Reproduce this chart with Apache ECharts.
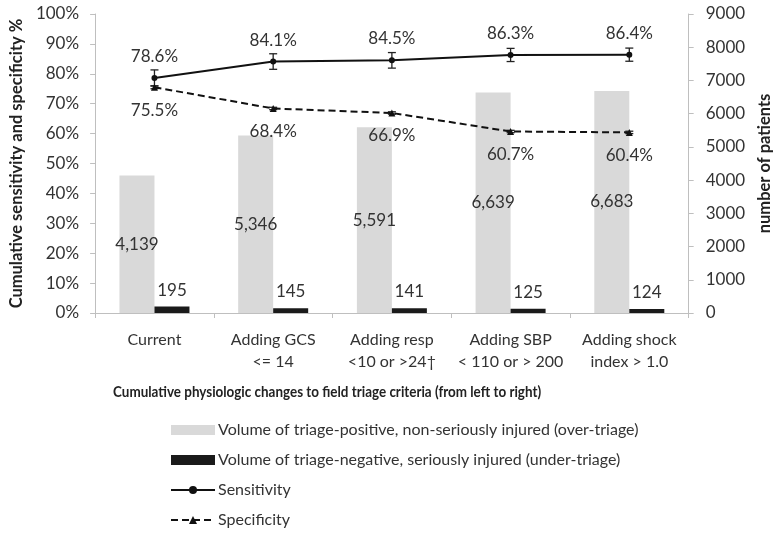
<!DOCTYPE html>
<html>
<head>
<meta charset="utf-8">
<script src="https://cdn.jsdelivr.net/npm/echarts@6/dist/echarts.min.js"></script>
<style>html,body{margin:0;padding:0;background:#fff}#c{width:781px;height:534px}</style>
</head>
<body>
<div id="c"></div>
<script>
const categories = ['Current', 'Adding GCS\n<= 14', 'Adding resp\n<10 or >24\u2020', 'Adding SBP\n< 110 or > 200', 'Adding shock\nindex > 1.0'];
const overTriage = [4139, 5346, 5591, 6639, 6683];
const underTriage = [195, 145, 141, 125, 124];
const sensitivity = [78.6, 84.1, 84.5, 86.3, 86.4];
const sensitivityErr = [2.7, 2.6, 2.6, 2.2, 2.2];
const specificity = [75.5, 68.4, 66.9, 60.7, 60.4];
const specificityErr = [0.5, 0.4, 0.4, 0.4, 0.4];
const leftTicks = [0, 10, 20, 30, 40, 50, 60, 70, 80, 90, 100];
const rightTicks = [0, 1000, 2000, 3000, 4000, 5000, 6000, 7000, 8000, 9000];

const FONT = 'Lato';
const TXT = '#333333';
const AX = '#bfbfbf';

function errSeries(vals, errs, z) {
  return {
    type: 'custom',
    name: 'err' + z,
    yAxisIndex: 0,
    z: z,
    silent: true,
    data: vals.map((v, i) => [i, v - errs[i], v + errs[i]]),
    renderItem: function (params, api) {
      const x = api.value(0);
      const lo = api.coord([x, api.value(1)]);
      const hi = api.coord([x, api.value(2)]);
      const w = 4;
      const st = { stroke: '#222', lineWidth: 1.3 };
      return {
        type: 'group',
        children: [
          { type: 'line', shape: { x1: lo[0], y1: lo[1], x2: hi[0], y2: hi[1] }, style: st },
          { type: 'line', shape: { x1: lo[0] - w, y1: lo[1], x2: lo[0] + w, y2: lo[1] }, style: st },
          { type: 'line', shape: { x1: hi[0] - w, y1: hi[1], x2: hi[0] + w, y2: hi[1] }, style: st }
        ]
      };
    }
  };
}

const chart = echarts.init(document.getElementById('c'), null, { renderer: 'canvas' });
chart.setOption({
  animation: false,
  textStyle: { fontFamily: FONT, color: TXT },
  grid: { left: 88, right: 87, top: 14, bottom: 221 },
  legend: {
    orient: 'vertical',
    left: 165,
    top: 417,
    itemWidth: 44,
    itemHeight: 10,
    itemGap: 14,
    textStyle: { fontFamily: FONT, fontSize: 16, color: TXT, padding: [0, 0, 0, -2] },
    data: [
      { name: 'Volume of triage-positive, non-seriously injured (over-triage)', icon: 'rect' },
      { name: 'Volume of triage-negative, seriously injured (under-triage)', icon: 'rect' },
      { name: 'Sensitivity' },
      { name: 'Specificity' }
    ]
  },
  graphic: [{
    type: 'text',
    x: 113,
    y: 384,
    scaleX: 0.84,
    style: {
      text: 'Cumulative physiologic changes to field triage criteria (from left to right)',
      font: 'bold 16px ' + FONT,
      fill: '#222'
    }
  }],
  xAxis: {
    type: 'category',
    data: categories,
    axisLine: { lineStyle: { color: AX, width: 1 } },
    axisTick: { show: true, length: 5, lineStyle: { color: AX } },
    axisLabel: { interval: 0, fontSize: 16, color: TXT, margin: 16, lineHeight: 22, fontFamily: FONT }
  },
  yAxis: [{
    type: 'value',
    min: 0, max: 100, interval: 10,
    name: 'Cumulative sensitivity and specificity %',
    nameLocation: 'middle',
    nameGap: 63,
    nameRotate: 90,
    nameTextStyle: { fontSize: 16.5, fontWeight: 'bold', color: '#222', fontFamily: FONT },
    axisLine: { show: true, lineStyle: { color: AX } },
    axisTick: { show: true, length: 5, lineStyle: { color: AX } },
    splitLine: { show: false },
    axisLabel: { fontSize: 17, color: TXT, margin: 16, formatter: v => leftTicks.includes(v) ? v + '%' : '' }
  }, {
    type: 'value',
    min: 0, max: 9000, interval: 1000,
    name: 'number of patients',
    nameLocation: 'middle',
    nameGap: 58,
    nameRotate: 90,
    nameTextStyle: { fontSize: 16.5, fontWeight: 'bold', color: '#222', fontFamily: FONT },
    axisLine: { show: true, lineStyle: { color: AX } },
    axisTick: { show: true, length: 5, lineStyle: { color: AX } },
    splitLine: { show: false },
    axisLabel: { fontSize: 17, color: TXT, margin: 17, formatter: v => rightTicks.includes(v) ? String(v) : '' }
  }],
  series: [{
    name: 'Volume of triage-positive, non-seriously injured (over-triage)',
    type: 'bar',
    yAxisIndex: 1,
    data: overTriage,
    barWidth: 35,
    barGap: '0%',
    itemStyle: { color: '#d9d9d9' },
    label: { show: true, position: 'inside', fontSize: 17, color: TXT, formatter: p => p.value.toLocaleString('en-US') }
  }, {
    name: 'Volume of triage-negative, seriously injured (under-triage)',
    type: 'bar',
    yAxisIndex: 1,
    data: underTriage,
    barWidth: 35,
    barGap: '0%',
    itemStyle: { color: '#1a1a1a' },
    label: { show: true, position: 'top', distance: 8, fontSize: 17, color: TXT }
  },
  errSeries(sensitivity, sensitivityErr, 5),
  errSeries(specificity, specificityErr, 5),
  {
    name: 'Sensitivity',
    type: 'line',
    yAxisIndex: 0,
    data: sensitivity,
    z: 6,
    symbol: 'circle',
    symbolSize: 6,
    lineStyle: { color: '#111', width: 2 },
    itemStyle: { color: '#111' },
    label: { show: true, position: 'top', distance: 10, fontSize: 17, color: TXT, formatter: p => p.value.toFixed(1) + '%' }
  }, {
    name: 'Specificity',
    type: 'line',
    yAxisIndex: 0,
    data: specificity,
    z: 6,
    symbol: 'triangle',
    symbolSize: 7,
    lineStyle: { color: '#111', width: 2, type: [7, 4] },
    itemStyle: { color: '#111' },
    label: { show: true, position: 'bottom', distance: 11, fontSize: 17, color: TXT, formatter: p => p.value.toFixed(1) + '%' }
  }]
});
</script>
</body>
</html>
